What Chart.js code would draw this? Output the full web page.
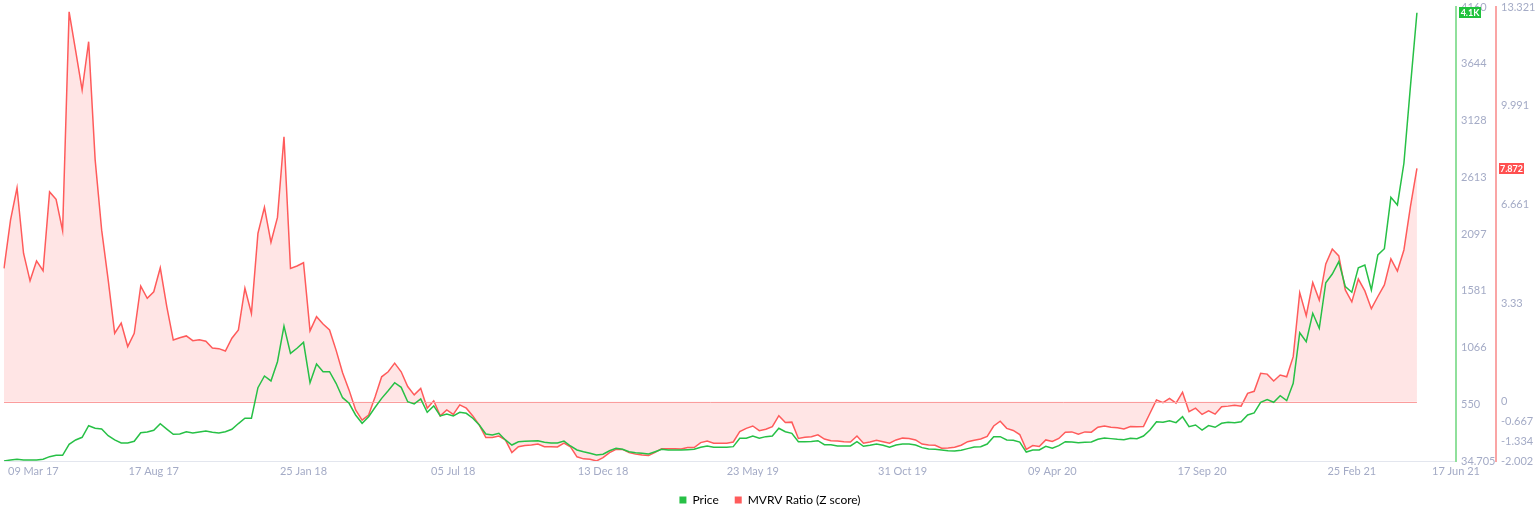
<!DOCTYPE html>
<html>
<head>
<meta charset="utf-8">
<script src="https://cdn.jsdelivr.net/npm/chart.js@4.4.1/dist/chart.umd.min.js"></script>
<style>
html,body{margin:0;padding:0;background:#fff;}
#wrap{width:1536px;height:520px;position:relative;}
</style>
</head>
<body>
<div id="wrap"><canvas id="c"></canvas></div>
<script>
// weekly categories start date and count (axis runs to 17 Jun 21)
const startDate = '2017-03-09';
const weekCount = 224;

const priceValues = [
  34.7, 44, 50, 44, 44, 44, 50, 74, 86, 86,
  186, 226, 250, 355, 332, 325, 265, 226, 198, 198,
  214, 292, 298, 314, 374, 325, 277, 280, 301, 289,
  298, 307, 295, 289, 301, 323, 375, 423, 423, 701,
  807, 762, 937, 1261, 1013, 1059, 1113, 746, 916, 846,
  846, 741, 610, 559, 453, 377, 437, 523, 604, 673,
  746, 704, 573, 553, 598, 477, 535, 444, 462, 444,
  477, 468, 423, 362, 280, 271, 286, 226, 180, 210,
  214, 216, 219, 205, 198, 198, 216, 171, 135, 119,
  105, 89, 96, 128, 150, 141, 119, 110, 105, 98,
  119, 141, 135, 135, 135, 138, 141, 159, 171, 159,
  159, 159, 165, 241, 241, 262, 241, 256, 262, 332,
  301, 286, 210, 210, 213, 219, 183, 183, 172, 171,
  171, 210, 168, 177, 189, 177, 159, 180, 189, 189,
  180, 156, 144, 141, 135, 128, 126, 132, 147, 162,
  165, 189, 256, 256, 226, 223, 207, 116, 135, 135,
  168, 150, 174, 210, 207, 201, 204, 207, 232, 244,
  238, 232, 228, 241, 237, 262, 316, 392, 386, 401,
  383, 437, 346, 362, 316, 356, 341, 377, 386, 383,
  392, 453, 471, 568, 592, 568, 628, 583, 741, 1200,
  1119, 1377, 1240, 1655, 1734, 1846, 1619, 1568, 1791, 1816,
  1589, 1907, 1964, 2431, 2361, 2740, 3436, 4108
];

const mvrvValues = [
  4.50, 6.13, 7.22, 5.01, 4.08, 4.75, 4.42, 7.08, 6.83, 5.77,
  13.16, 11.85, 10.52, 12.15, 8.16, 5.79, 4.11, 2.31, 2.65, 1.86,
  2.31, 3.90, 3.49, 3.71, 4.52, 3.21, 2.08, 2.16, 2.22, 2.06,
  2.09, 2.04, 1.81, 1.79, 1.71, 2.14, 2.42, 3.83, 2.98, 5.68,
  6.56, 5.38, 6.22, 8.94, 4.50, 4.58, 4.69, 2.39, 2.87, 2.62,
  2.42, 1.74, 0.98, 0.39, -0.28, -0.62, -0.45, 0.17, 0.84, 1.01,
  1.30, 1.01, 0.51, 0.23, 0.45, -0.22, 0.03, -0.48, -0.28, -0.43,
  -0.11, -0.22, -0.48, -0.79, -1.21, -1.21, -1.16, -1.29, -1.72, -1.52,
  -1.48, -1.46, -1.43, -1.52, -1.52, -1.53, -1.40, -1.52, -1.86, -1.93,
  -1.94, -2.0, -1.89, -1.72, -1.61, -1.61, -1.72, -1.77, -1.80, -1.82,
  -1.71, -1.59, -1.59, -1.59, -1.60, -1.55, -1.55, -1.38, -1.33, -1.40,
  -1.40, -1.40, -1.36, -1.01, -0.90, -0.82, -0.98, -0.93, -0.84, -0.47,
  -0.70, -0.69, -1.24, -1.20, -1.18, -1.12, -1.26, -1.32, -1.33, -1.35,
  -1.36, -1.16, -1.40, -1.36, -1.30, -1.35, -1.40, -1.29, -1.23, -1.24,
  -1.29, -1.43, -1.46, -1.47, -1.57, -1.56, -1.54, -1.47, -1.35, -1.30,
  -1.26, -1.17, -0.82, -0.66, -0.90, -0.97, -1.11, -1.61, -1.48, -1.51,
  -1.29, -1.34, -1.24, -1.03, -1.02, -1.10, -1.02, -1.03, -0.86, -0.82,
  -0.86, -0.88, -0.92, -0.84, -0.85, -0.84, -0.39, 0.06, -0.03, 0.11,
  -0.05, 0.32, -0.34, -0.22, -0.43, -0.31, -0.42, -0.17, -0.15, -0.12,
  -0.15, 0.28, 0.35, 0.96, 0.93, 0.70, 0.90, 0.84, 1.52, 3.68,
  2.90, 4.02, 3.43, 4.65, 5.15, 4.92, 3.77, 3.37, 4.14, 3.74,
  3.14, 3.55, 3.94, 4.82, 4.41, 5.12, 6.58, 7.872
];

const xTickIndex = [0, 23, 46, 69, 92, 115, 138, 161, 184, 207, 223];
const xTickLabels = ['09 Mar 17', '17 Aug 17', '25 Jan 18', '05 Jul 18', '13 Dec 18', '23 May 19',
                     '31 Oct 19', '09 Apr 20', '17 Sep 20', '25 Feb 21', '17 Jun 21'];
const priceTicks = [34.705, 550, 1066, 1581, 2097, 2613, 3128, 3644, 4160];
const mvrvTicks = [-2.002, -1.334, -0.667, 0, 3.33, 6.661, 9.991, 13.321];

const seriesNames = ['Price', 'MVRV Ratio (Z score)'];
const GREEN = '#27c046';
const RED = '#ff5b5b';
const TICK_COLOR = '#a4abc6';
const FONT = 'Lato, "Open Sans", sans-serif';

// category labels (weekly dates)
const MONTHS = ['Jan','Feb','Mar','Apr','May','Jun','Jul','Aug','Sep','Oct','Nov','Dec'];
const weekLabels = [];
{
  const d0 = new Date(startDate + 'T00:00:00Z');
  for (let i = 0; i < weekCount; i++) {
    const d = new Date(d0.getTime() + i * 7 * 86400000);
    weekLabels.push(String(d.getUTCDate()).padStart(2, '0') + ' ' + MONTHS[d.getUTCMonth()] + ' ' + String(d.getUTCFullYear()).slice(2));
  }
}

const xLabelPlugin = {
  id: 'xLabels',
  afterDraw(chart) {
    const xs = chart.scales.x, ctx = chart.ctx, area = chart.chartArea;
    ctx.save();
    ctx.font = '11px ' + FONT;
    ctx.fillStyle = TICK_COLOR;
    ctx.textBaseline = 'middle';
    ctx.textAlign = 'center';
    xTickIndex.forEach((idx, k) => {
      const txt = xTickLabels[k];
      const w = ctx.measureText(txt).width;
      let x = xs.getPixelForValue(idx);
      if (x - w / 2 < 8) x = 8 + w / 2;
      ctx.fillText(txt, x, area.bottom + 10);
    });
    ctx.restore();
  }
};

const zeroLinePlugin = {
  id: 'zeroLine',
  afterDatasetDraw(chart, args) {
    if (args.index !== 1) return;
    const xs = chart.scales.x, ys = chart.scales.y1, ctx = chart.ctx;
    const y = Math.round(ys.getPixelForValue(0)) + 0.5;
    ctx.save();
    ctx.strokeStyle = '#fb9d9d';
    ctx.lineWidth = 1;
    ctx.beginPath();
    ctx.moveTo(xs.getPixelForValue(0), y);
    ctx.lineTo(xs.getPixelForValue(mvrvValues.length - 1), y);
    ctx.stroke();
    ctx.restore();
  }
};

const tagPlugin = {
  id: 'lastTags',
  afterDraw(chart) {
    const ctx = chart.ctx;
    const drawTag = (scale, value, text, color, w) => {
      const y = scale.getPixelForValue(value);
      const x = scale.left + 3;
      const h = 11;
      ctx.fillStyle = color;
      ctx.fillRect(x, Math.round(y - h / 2), w, h);
      ctx.fillStyle = '#ffffff';
      ctx.font = 'bold 9px ' + FONT;
      ctx.textAlign = 'center';
      ctx.textBaseline = 'middle';
      ctx.fillText(text, x + w / 2, Math.round(y - h / 2) + h / 2 + 0.5);
    };
    ctx.save();
    const lastPrice = priceValues[priceValues.length - 1];
    const lastMvrv = mvrvValues[mvrvValues.length - 1];
    drawTag(chart.scales.y, lastPrice, (lastPrice / 1000).toFixed(1) + 'K', '#1fc23c', 22);
    drawTag(chart.scales.y1, lastMvrv, lastMvrv.toFixed(3), '#ff5050', 25);
    ctx.restore();
  }
};

new Chart(document.getElementById('c'), {
  type: 'line',
  data: {
    labels: weekLabels,
    datasets: [
      {
        label: seriesNames[0],
        data: priceValues,
        yAxisID: 'y',
        borderColor: GREEN,
        backgroundColor: GREEN,
        borderWidth: 1.5,
        pointRadius: 0,
        fill: false,
        tension: 0
      },
      {
        label: seriesNames[1],
        data: mvrvValues,
        yAxisID: 'y1',
        borderColor: RED,
        backgroundColor: 'rgba(255, 95, 95, 0.16)',
        borderWidth: 1.5,
        pointRadius: 0,
        fill: { value: 0 },
        tension: 0
      }
    ]
  },
  options: {
    responsive: true,
    maintainAspectRatio: false,
    animation: false,
    devicePixelRatio: 1,
    layout: { padding: { left: 4, right: 0, top: 7, bottom: 4 } },
    plugins: {
      legend: {
        position: 'bottom',
        labels: {
          boxWidth: 7,
          boxHeight: 7,
          padding: 16,
          color: '#444a55',
          font: { family: FONT, size: 12 },
          generateLabels(chart) {
            return chart.data.datasets.map((ds, i) => ({
              text: ds.label,
              fillStyle: ds.borderColor,
              strokeStyle: ds.borderColor,
              lineWidth: 0,
              hidden: !chart.isDatasetVisible(i),
              datasetIndex: i
            }));
          }
        }
      },
      tooltip: { enabled: false }
    },
    scales: {
      x: {
        type: 'category',
        grid: { display: false, drawTicks: false },
        border: { display: true, color: '#e3e6ee', width: 1 },
        ticks: { display: false },
        afterFit(s) { s.height = 17; s.paddingLeft = 0; s.paddingRight = 0; }
      },
      y: {
        position: 'right',
        min: priceTicks[0],
        max: priceTicks[priceTicks.length - 1],
        grid: { display: false, drawTicks: false },
        border: { display: true, color: '#90e09c', width: 2 },
        ticks: {
          color: TICK_COLOR,
          font: { family: FONT, size: 11 },
          padding: 5,
          autoSkip: false,
          callback: (v) => String(v)
        },
        afterBuildTicks(axis) { axis.ticks = priceTicks.map(v => ({ value: v })); },
        afterFit(s) { s.width = 40; s.paddingTop = 0; s.paddingBottom = 0; }
      },
      y1: {
        position: 'right',
        min: mvrvTicks[0],
        max: mvrvTicks[mvrvTicks.length - 1],
        grid: { display: false, drawTicks: false },
        border: { display: true, color: '#faa5a5', width: 2 },
        ticks: {
          color: TICK_COLOR,
          font: { family: FONT, size: 11 },
          padding: 5,
          autoSkip: false,
          callback: (v) => String(v)
        },
        afterBuildTicks(axis) { axis.ticks = mvrvTicks.map(v => ({ value: v })); },
        afterFit(s) { s.width = 40; s.paddingTop = 0; s.paddingBottom = 0; }
      }
    }
  },
  plugins: [xLabelPlugin, zeroLinePlugin, tagPlugin]
});
</script>
</body>
</html>
